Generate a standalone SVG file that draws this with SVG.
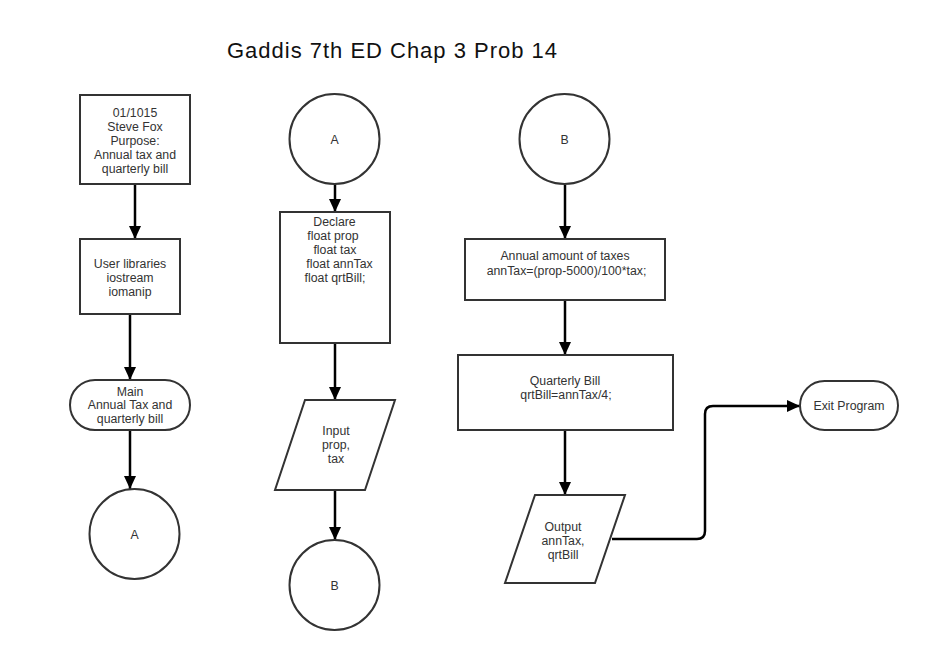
<svg xmlns="http://www.w3.org/2000/svg" width="926" height="650" viewBox="0 0 926 650">
<defs>
<marker id="arr" markerUnits="userSpaceOnUse" markerWidth="13" markerHeight="12" refX="13" refY="6" orient="auto">
<path d="M0,0 L13,6 L0,12 z" fill="#000"/>
</marker>
<style>
.s{fill:#fff;stroke:#333;stroke-width:2}
.t{font-family:"Liberation Sans",Arial,sans-serif;font-size:12.3px;fill:#333;text-anchor:middle}
.c{fill:none;stroke:#000;stroke-width:2.5;marker-end:url(#arr)}
</style>
</defs>
<rect width="926" height="650" fill="#fff"/>
<text x="227" y="58" font-family="Liberation Sans, Arial, sans-serif" font-size="22" fill="#111" textLength="330" lengthAdjust="spacing">Gaddis 7th ED Chap 3 Prob 14</text>

<g id="connectors">
<path class="c" d="M135,184 L135,239"/>
<path class="c" d="M130,314 L130,380"/>
<path class="c" d="M130,430 L130,489"/>
<path class="c" d="M335,184 L335,212"/>
<path class="c" d="M335,343 L335,400"/>
<path class="c" d="M335,490 L335,540"/>
<path class="c" d="M565,185 L565,239"/>
<path class="c" d="M565,300 L565,355"/>
<path class="c" d="M565,430 L565,495"/>
<path class="c" d="M612,539 L697,539 Q705,539 705,531 L705,414 Q705,406 713,406 L800,406"/>
</g>

<g id="n_header">
<rect class="s" x="80" y="95" width="110" height="89"/>
<text class="t"><tspan x="135" y="116.5">01/1015</tspan><tspan x="135" y="130.5">Steve Fox</tspan><tspan x="135" y="144.5">Purpose:</tspan><tspan x="135" y="158.5">Annual tax and</tspan><tspan x="135" y="172.5">quarterly bill</tspan></text>
</g>
<g id="n_libs">
<rect class="s" x="80" y="239" width="100" height="75"/>
<text class="t"><tspan x="130" y="268">User libraries</tspan><tspan x="130" y="282">iostream</tspan><tspan x="130" y="296">iomanip</tspan></text>
</g>
<g id="n_main">
<rect class="s" x="70" y="380" width="120" height="50" rx="25" ry="25"/>
<text class="t"><tspan x="130" y="395.5">Main</tspan><tspan x="130" y="409">Annual Tax and</tspan><tspan x="130" y="422.5">quarterly bill</tspan></text>
</g>
<g id="n_A1">
<circle class="s" cx="134.5" cy="534" r="45"/>
<text class="t" x="134.5" y="538.5">A</text>
</g>
<g id="n_A2">
<circle class="s" cx="334.5" cy="139" r="45"/>
<text class="t" x="334.5" y="143.5">A</text>
</g>
<g id="n_declare">
<rect class="s" x="280" y="212" width="110" height="131"/>
<text class="t"><tspan x="334.5" y="226">Declare</tspan><tspan x="333" y="240">float prop</tspan><tspan x="335" y="254">float tax</tspan><tspan x="339.5" y="268">float annTax</tspan><tspan x="335" y="282">float qrtBill;</tspan></text>
</g>
<g id="n_input">
<polygon class="s" points="305,400 395,400 365,490 275,490"/>
<text class="t"><tspan x="336" y="434.5">Input</tspan><tspan x="336" y="448.5">prop,</tspan><tspan x="336" y="462.5">tax</tspan></text>
</g>
<g id="n_B1">
<circle class="s" cx="334.5" cy="585" r="45"/>
<text class="t" x="334.5" y="589.5">B</text>
</g>
<g id="n_B2">
<circle class="s" cx="564.5" cy="139" r="45"/>
<text class="t" x="564.5" y="143.5">B</text>
</g>
<g id="n_annual">
<rect class="s" x="465" y="239" width="200" height="61"/>
<text class="t"><tspan x="565" y="259.5">Annual amount of taxes</tspan><tspan x="566.5" y="275">annTax=(prop-5000)/100*tax;</tspan></text>
</g>
<g id="n_quarterly">
<rect class="s" x="458" y="355" width="215" height="75"/>
<text class="t"><tspan x="565" y="384.5">Quarterly Bill</tspan><tspan x="566" y="398.5">qrtBill=annTax/4;</tspan></text>
</g>
<g id="n_output">
<polygon class="s" points="535,495 625,495 595,583 505,583"/>
<text class="t"><tspan x="563" y="531">Output</tspan><tspan x="563" y="545">annTax,</tspan><tspan x="563" y="559">qrtBill</tspan></text>
</g>
<g id="n_exit">
<rect class="s" x="800" y="381" width="98" height="49" rx="24.5" ry="24.5"/>
<text class="t" x="849" y="409.5">Exit Program</text>
</g>
</svg>
